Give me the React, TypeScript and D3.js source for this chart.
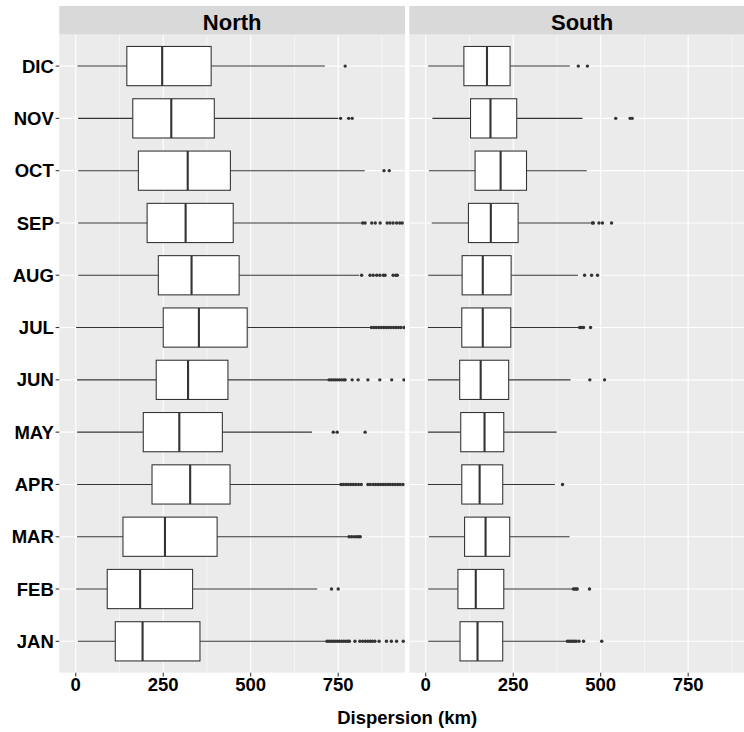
import React from "react";
import * as d3 from "d3";

// Monthly dispersion distributions (km), summarised as boxplot statistics
const months = ["JAN", "FEB", "MAR", "APR", "MAY", "JUN", "JUL", "AUG", "SEP", "OCT", "NOV", "DIC"];
const facets = ["North", "South"];

const northLower = [6, 1, 4, 4, 4, 4, 1, 7, 7, 7, 7, 5];
const northQ1 = [113, 90, 135, 218, 193, 230, 250, 236, 204, 179, 163, 146];
const northMedian = [191, 184, 255, 327, 296, 321, 352, 331, 314, 320, 273, 247];
const northQ3 = [355, 334, 404, 441, 419, 435, 490, 467, 450, 442, 396, 387];
const northUpper = [715, 690, 778, 755, 675, 721, 841, 810, 815, 826, 750, 712];
const northOutliers = [
  [718, 724, 730, 736, 742, 748, 754, 760, 766, 772, 778, 782, 798, 812, 820, 828, 835, 842, 848, 855, 867, 888, 902, 917, 936],
  [731, 750],
  [781, 788, 795, 802, 808, 813],
  [758, 765, 772, 779, 786, 793, 800, 808, 816, 835, 842, 850, 857, 864, 871, 878, 885, 892, 899, 906, 913, 920, 927, 935],
  [736, 747, 827],
  [724, 730, 736, 742, 748, 754, 760, 766, 770, 790, 807, 835, 869, 903, 938],
  [845, 852, 859, 866, 873, 880, 887, 894, 901, 908, 915, 922, 929, 938],
  [817, 841, 850, 860, 869, 879, 884, 907, 915, 919],
  [820, 827, 846, 856, 870, 890, 898, 907, 917, 926, 933],
  [881, 896],
  [757, 780, 790],
  [770],
];

const southLower = [7, 7, 9, 6, 6, 6, 6, 7, 17, 9, 19, 7];
const southQ1 = [98, 92, 111, 103, 100, 97, 103, 104, 122, 141, 128, 109];
const southMedian = [148, 143, 171, 154, 168, 157, 163, 163, 186, 214, 185, 175];
const southQ3 = [220, 223, 240, 220, 223, 237, 243, 244, 264, 288, 260, 241];
const southUpper = [403, 419, 411, 369, 374, 414, 437, 435, 471, 460, 448, 412];
const southOutliers = [
  [405, 410, 415, 420, 425, 430, 438, 451, 503],
  [422, 426, 430, 433, 468],
  [],
  [391],
  [],
  [469, 511],
  [440, 445, 451, 471],
  [454, 474, 491],
  [476, 479, 495, 505, 531],
  [],
  [543, 584, 590],
  [436, 462],
];

const majorTicks = [0, 250, 500, 750];
const minorTicks = [125, 375, 625, 875];

const W = 744;
const H = 732;
const FONT = "'Liberation Sans', Arial, Helvetica, sans-serif";
const INK = "#333333";

const panelTop = 34.7;
const panelBottom = 672.7;
const panelWidth = 345.7;
const panelLefts = [59.3, 409.3];
const stripTop = 6;

const x = d3.scaleLinear().domain([-47, 941]).range([0, panelWidth]);
const y = d3
  .scalePoint<string>()
  .domain(months)
  .range([panelBottom, panelTop])
  .padding(0.6);
const step = (panelBottom - panelTop) / (months.length - 1 + 1.2);
const boxH = step * 0.75;

type Stats = {
  lower: number[];
  q1: number[];
  median: number[];
  q3: number[];
  upper: number[];
  outliers: number[][];
};

const stats: Stats[] = [
  { lower: northLower, q1: northQ1, median: northMedian, q3: northQ3, upper: northUpper, outliers: northOutliers },
  { lower: southLower, q1: southQ1, median: southMedian, q3: southQ3, upper: southUpper, outliers: southOutliers },
];

function Panel({ left, s, label, idx }: { left: number; s: Stats; label: string; idx: number }) {
  return (
    <g transform={`translate(${left},0)`}>
      <clipPath id={`clip${idx}`}>
        <rect x={0} y={panelTop} width={panelWidth} height={panelBottom - panelTop} />
      </clipPath>
      <rect x={0} y={stripTop} width={panelWidth} height={panelTop - stripTop} fill="#D9D9D9" />
      <text
        x={panelWidth / 2}
        y={29.5}
        textAnchor="middle"
        fontFamily={FONT}
        fontWeight="bold"
        fontSize={22}
        fill="#000"
      >
        {label}
      </text>
      <rect x={0} y={panelTop} width={panelWidth} height={panelBottom - panelTop} fill="#EBEBEB" />
      <g clipPath={`url(#clip${idx})`}>
        {minorTicks.map((t) => (
          <line key={`mi${t}`} x1={x(t)} x2={x(t)} y1={panelTop} y2={panelBottom} stroke="#fff" strokeWidth={0.55} />
        ))}
        {majorTicks.map((t) => (
          <line key={`ma${t}`} x1={x(t)} x2={x(t)} y1={panelTop} y2={panelBottom} stroke="#fff" strokeWidth={1.1} />
        ))}
        {months.map((m) => (
          <line key={`h${m}`} x1={0} x2={panelWidth} y1={y(m)} y2={y(m)} stroke="#fff" strokeWidth={1.1} />
        ))}
        {months.map((m, i) => {
          const cy = y(m) as number;
          return (
            <g key={m}>
              <line x1={x(s.lower[i])} x2={x(s.q1[i])} y1={cy} y2={cy} stroke={INK} strokeWidth={1.07} />
              <line x1={x(s.q3[i])} x2={x(s.upper[i])} y1={cy} y2={cy} stroke={INK} strokeWidth={1.07} />
              <rect
                x={x(s.q1[i])}
                y={cy - boxH / 2}
                width={x(s.q3[i]) - x(s.q1[i])}
                height={boxH}
                fill="#fff"
                stroke={INK}
                strokeWidth={1.07}
              />
              <line
                x1={x(s.median[i])}
                x2={x(s.median[i])}
                y1={cy - boxH / 2}
                y2={cy + boxH / 2}
                stroke={INK}
                strokeWidth={2.1}
              />
              {s.outliers[i].map((v, j) => (
                <circle key={j} cx={x(v)} cy={cy} r={1.7} fill={INK} />
              ))}
            </g>
          );
        })}
      </g>
      {majorTicks.map((t) => (
        <g key={`t${t}`}>
          <line x1={x(t)} x2={x(t)} y1={panelBottom} y2={panelBottom + 3.7} stroke={INK} strokeWidth={1.07} />
          <text
            x={x(t)}
            y={690.5}
            textAnchor="middle"
            fontFamily={FONT}
            fontWeight="bold"
            fontSize={18.5}
            fill="#000"
          >
            {t}
          </text>
        </g>
      ))}
    </g>
  );
}

export default function App() {
  return (
    <svg
      width={W}
      height={H}
      viewBox={`0 0 ${W} ${H}`}
      style={{ position: "absolute", left: 0, top: 0, background: "#fff" }}
    >
      <rect x={0} y={0} width={W} height={H} fill="#fff" />
      {facets.map((f, i) => (
        <Panel key={f} left={panelLefts[i]} s={stats[i]} label={f} idx={i} />
      ))}
      {months.map((m) => {
        const cy = y(m) as number;
        return (
          <g key={`y${m}`}>
            <line x1={panelLefts[0] - 3.7} x2={panelLefts[0]} y1={cy} y2={cy} stroke={INK} strokeWidth={1.07} />
            <text
              x={panelLefts[0] - 5.5}
              y={cy + 6.6}
              textAnchor="end"
              fontFamily={FONT}
              fontWeight="bold"
              fontSize={18.5}
              fill="#000"
            >
              {m}
            </text>
          </g>
        );
      })}
      <text
        x={(panelLefts[0] + panelLefts[1] + panelWidth) / 2}
        y={724}
        textAnchor="middle"
        fontFamily={FONT}
        fontWeight="bold"
        fontSize={18.5}
        fill="#000"
      >
        Dispersion (km)
      </text>
    </svg>
  );
}
